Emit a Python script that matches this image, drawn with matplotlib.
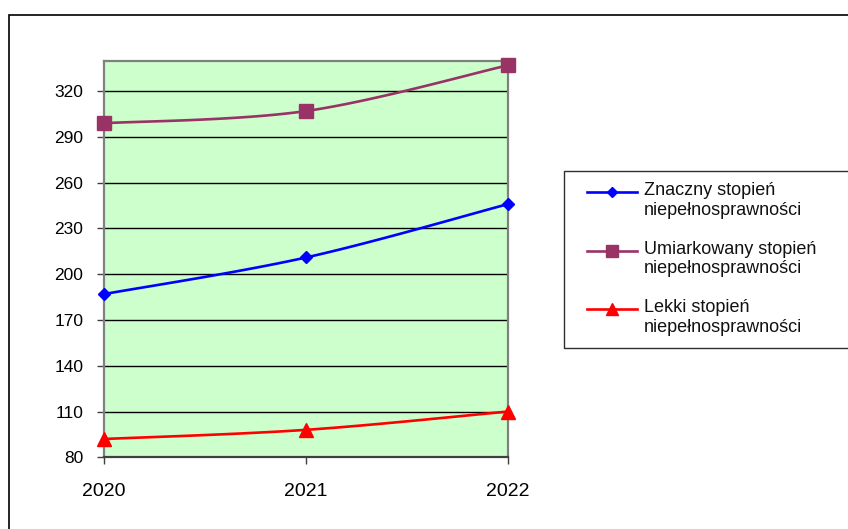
import numpy as np
import matplotlib
matplotlib.use("Agg")
import matplotlib.pyplot as plt
from matplotlib.lines import Line2D
from matplotlib.patches import Rectangle

plt.rcParams['font.family'] = ['Liberation Sans', 'DejaVu Sans']

years = ["2020", "2021", "2022"]
znaczny = [187, 211, 246]
umiarkowany = [299, 307, 337]
lekki = [92, 98, 110]
labels = ["Znaczny stopień\nniepełnosprawności",
          "Umiarkowany stopień\nniepełnosprawności",
          "Lekki stopień\nniepełnosprawności"]
colors = ["#0000FF", "#993366", "#FF0000"]
markers = ["D", "s", "^"]
msizes = [6.5, 9.5, 10]
yticks = list(range(80, 321, 30))

W, H = 848, 529
fig = plt.figure(figsize=(W / 100, H / 100), dpi=100)

def px(x0, y0, x1, y1):
    return [x0 / W, 1 - y1 / H, (x1 - x0) / W, (y1 - y0) / H]

ax = fig.add_axes(px(104, 60.7, 508, 457.3))
ax.set_facecolor("#CCFFCC")


def smooth(y, n=60):
    y = np.asarray(y, float)
    x = np.arange(len(y), dtype=float)
    P = np.column_stack([x, y])
    Pext = np.vstack([P[0], P, P[-1]])
    out = []
    t = np.linspace(0, 1, n)[:, None]
    for i in range(len(P) - 1):
        p0, p1, p2, p3 = Pext[i], Pext[i + 1], Pext[i + 2], Pext[i + 3]
        c1 = p1 + (p2 - p0) / 6
        c2 = p2 - (p3 - p1) / 6
        seg = ((1 - t) ** 3) * p1 + 3 * ((1 - t) ** 2) * t * c1 + 3 * (1 - t) * t ** 2 * c2 + t ** 3 * p2
        out.append(seg if i == 0 else seg[1:])
    B = np.vstack(out)
    return B[:, 0], B[:, 1]


series = [znaczny, umiarkowany, lekki]
for vals, c, m, ms in zip(series, colors, markers, msizes):
    sx, sy = smooth(vals)
    ax.plot(sx, sy, color=c, lw=1.9, zorder=3, clip_on=False)
    ax.plot(range(len(vals)), vals, linestyle="none", marker=m, ms=ms,
            color=c, markeredgecolor=c, zorder=4, clip_on=False)

ax.set_xlim(0, len(years) - 1)
ax.set_ylim(80, 340)
ax.set_yticks(yticks)
ax.set_yticklabels([str(v) for v in yticks])
ax.set_xticks(range(len(years)))
ax.set_xticklabels(years)
ax.yaxis.grid(True, color="#000000", lw=1)
ax.set_axisbelow(True)
for s in ax.spines.values():
    s.set_color("#808080")
    s.set_linewidth(1.6)
ax.spines["bottom"].set_color("#404040")
ax.tick_params(axis="y", direction="out", length=5, width=1, color="#404040",
               labelsize=12.5, pad=10)
ax.tick_params(axis="x", direction="out", length=5, width=1, color="#404040",
               labelsize=14, pad=13.5)

# outer chart border
fig.add_artist(Rectangle((9 / W, -0.1), 2, 1 - 14.5 / H + 0.1,
                         transform=fig.transFigure, fill=False,
                         edgecolor="#000000", lw=1.2))

# legend box
fig.add_artist(Rectangle((564 / W, 1 - 348.3 / H), 2, (348.3 - 170.7) / H,
                         transform=fig.transFigure, fill=False,
                         edgecolor="#303030", lw=1.0))
rows = [191.7, 250.5, 309]
for yv, lab, c, m, ms in zip(rows, labels, colors, markers, msizes):
    yf = 1 - yv / H
    fig.add_artist(Line2D([587 / W, 637 / W], [yf, yf], transform=fig.transFigure,
                          color=c, lw=1.9))
    fig.add_artist(Line2D([612 / W], [yf], transform=fig.transFigure,
                          color=c, marker=m, ms=ms * 0.85, linestyle="none"))
    fig.text(644 / W, yf + 10 / H, lab, transform=fig.transFigure,
             fontsize=13, va="top", ha="left", linespacing=1.22, color="#111111")

fig.savefig("out.png", dpi=100)
